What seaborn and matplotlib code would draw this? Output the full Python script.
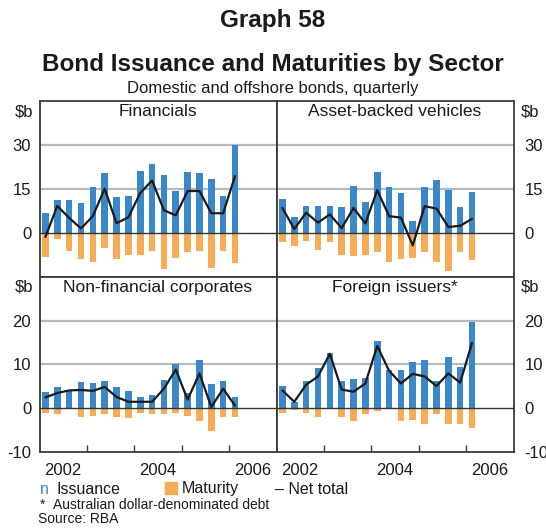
import matplotlib.pyplot as plt
import matplotlib.patches as mpatches
import pandas as pd
import seaborn as sns

# quarterly data, Mar-2002 to Mar-2006 ($b)
years = [2002] * 4 + [2003] * 4 + [2004] * 4 + [2005] * 4 + [2006]
quarters = [1, 2, 3, 4] * 4 + [1]

fin_iss = [6.9, 11.3, 11.3, 10.3, 15.8, 20.6, 12.4, 12.7, 21.1, 23.7, 19.9, 14.4, 21.0, 20.6, 18.6, 12.7, 30.0]
fin_mat = [8.1, 1.9, 6.1, 8.8, 9.9, 5.0, 8.8, 7.4, 7.4, 6.1, 12.3, 8.5, 6.4, 6.1, 11.9, 6.1, 10.2]
fin_net = [-1.3, 9.3, 5.2, 1.6, 5.8, 15.2, 3.4, 5.4, 13.7, 18.0, 7.8, 6.1, 14.4, 14.4, 6.8, 6.8, 19.5]

abs_iss = [11.7, 5.5, 9.3, 9.3, 9.3, 8.9, 16.2, 10.7, 21.0, 15.8, 13.7, 4.1, 15.8, 18.2, 14.8, 8.9, 14.1]
abs_mat = [3.0, 4.4, 2.6, 5.7, 3.0, 7.4, 7.8, 7.4, 6.4, 9.9, 8.8, 8.5, 6.4, 9.9, 12.9, 6.4, 9.2]
abs_net = [8.6, 1.4, 7.0, 3.6, 6.4, 1.7, 8.6, 3.3, 14.7, 5.8, 5.3, -4.2, 9.2, 8.4, 2.1, 2.5, 4.9]

nfc_iss = [3.7, 4.8, 4.1, 6.0, 5.7, 6.2, 4.8, 3.9, 2.5, 3.0, 6.4, 10.1, 3.4, 11.0, 5.5, 6.2, 2.5]
nfc_mat = [1.1, 1.5, 0.0, 2.0, 1.8, 1.5, 2.2, 2.4, 1.1, 1.5, 1.5, 1.1, 1.8, 3.1, 5.4, 2.0, 2.2]
nfc_net = [2.4, 3.4, 4.0, 4.1, 3.9, 4.8, 2.5, 1.4, 1.4, 1.4, 4.4, 8.8, 1.9, 7.9, 0.2, 4.4, 0.5]

for_iss = [5.0, 1.4, 6.2, 9.2, 12.6, 6.2, 6.6, 6.9, 15.3, 8.7, 8.7, 10.5, 11.0, 6.2, 11.7, 9.4, 19.7]
for_mat = [1.1, 0.4, 1.1, 2.0, 0.0, 2.0, 2.9, 1.3, 0.8, 0.0, 3.1, 2.7, 3.8, 1.3, 3.8, 3.6, 4.7]
for_net = [4.0, 1.4, 5.3, 7.2, 12.4, 4.2, 3.7, 5.6, 14.2, 8.5, 5.6, 7.8, 7.2, 5.0, 7.9, 5.8, 14.9]

titles = ["Financials", "Asset-backed vehicles", "Non-financial corporates", "Foreign issuers*"]
top_ticks = [0, 15, 30]
bottom_ticks = [-10, 0, 10, 20]

BLUE = "#3a87c9"
ORANGE = "#f9aa55"
GRID = "#b3b9bf"
FRAME = "#3a3a3a"
TXT = "#1a1a1a"

sns.set_theme(style="white")
plt.rcParams["font.family"] = ["Liberation Sans", "DejaVu Sans"]
plt.rcParams["axes.unicode_minus"] = False

W, H = 546, 529
fig = plt.figure(figsize=(W / 100, H / 100), dpi=100)


def box(x0, y0, x1, y1):
    # pixel box (top-left origin) -> figure fractions
    return [x0 / W, 1 - y1 / H, (x1 - x0) / W, (y1 - y0) / H]


axes = [
    fig.add_axes(box(39.5, 101.5, 276.5, 277)),
    fig.add_axes(box(276.5, 101.5, 513.5, 277)),
    fig.add_axes(box(39.5, 277, 276.5, 451.5)),
    fig.add_axes(box(276.5, 277, 513.5, 451.5)),
]

series = [
    (fin_iss, fin_mat, fin_net),
    (abs_iss, abs_mat, abs_net),
    (nfc_iss, nfc_mat, nfc_net),
    (for_iss, for_mat, for_net),
]

pos = [y + (q - 1) * 0.25 + 0.125 for y, q in zip(years, quarters)]

for i, (ax, (iss, mat, net)) in enumerate(zip(axes, series)):
    top = i < 2
    ticks = top_ticks if top else bottom_ticks

    df = pd.DataFrame({"pos": pos, "iss": iss, "mat": [-m for m in mat], "net": net})
    sns.barplot(data=df, x="pos", y="iss", native_scale=True, width=0.56,
                color=BLUE, saturation=1, errorbar=None, linewidth=0, ax=ax, zorder=2)
    sns.barplot(data=df, x="pos", y="mat", native_scale=True, width=0.56,
                color=ORANGE, saturation=1, errorbar=None, linewidth=0, ax=ax, zorder=2)
    sns.lineplot(data=df, x="pos", y="net", color=TXT, lw=1.6, ax=ax, zorder=4)

    ax.set_ylim(*((-15, 45) if top else (-10, 30)))
    ax.set_yticks(ticks)
    ax.set_xlim(2002, 2007)
    ax.set_xlabel("")
    ax.set_ylabel("")

    # grid lines by hand, just under the bars
    for t in ticks:
        if t > 0:
            ax.axhline(t, color=GRID, lw=1.6, zorder=1.5)
    ax.axhline(0, color="#333333", lw=1.0, zorder=3)

    left = i % 2 == 0
    ax.tick_params(axis="y", length=0, labelsize=12, labelcolor=TXT,
                   labelleft=left, labelright=not left, pad=6 if left else 8)
    ax.text(-0.026 if left else 1.032, 0.985, "\\$b", transform=ax.transAxes,
            ha="right" if left else "left", va="top", fontsize=12, color=TXT)

    if top:
        ax.set_xticks([])
    else:
        ax.set_xticks([2003, 2004, 2005, 2006])
        ax.set_xticks([2002.5, 2004.5, 2006.5], minor=True)
        ax.set_xticklabels([], minor=False)
        ax.set_xticklabels(["2002", "2004", "2006"], minor=True)
        ax.tick_params(axis="x", which="major", direction="in", length=5,
                       width=1, color=FRAME, bottom=True)
        ax.tick_params(axis="x", which="minor", length=0, labelsize=12,
                       labelcolor=TXT, pad=8, bottom=True)

    for s in ax.spines.values():
        s.set_visible(True)
        s.set_color(FRAME)
        s.set_linewidth(1.3)

    ax.text(0.5, 0.985, titles[i], transform=ax.transAxes, ha="center", va="top",
            fontsize=12.5, color=TXT)

fig.text(0.5, 1 - 20 / H, "Graph 58", ha="center", va="center",
         fontsize=17.5, fontweight="bold", color=TXT)
fig.text(0.5, 1 - 64 / H, "Bond Issuance and Maturities by Sector", ha="center",
         va="center", fontsize=17.5, fontweight="bold", color=TXT)
fig.text(0.5, 1 - 88 / H, "Domestic and offshore bonds, quarterly", ha="center",
         va="center", fontsize=12, color=TXT)

# legend
ly = 1 - 489 / H
fig.text(40 / W, ly, "n", ha="left", va="center", fontsize=11.5, color=BLUE)
fig.text(57 / W, ly, "Issuance", ha="left", va="center", fontsize=11.5, color=TXT)
fig.patches.append(mpatches.Rectangle((165 / W, 1 - 494 / H), 12 / W, 12 / H,
                                      transform=fig.transFigure, color=ORANGE))
fig.text(182 / W, ly, "Maturity", ha="left", va="center", fontsize=11.5, color=TXT)
fig.text(275 / W, ly, "\u2013 Net total", ha="left", va="center", fontsize=11.5, color=TXT)

fig.text(40 / W, 1 - 505 / H, "*", ha="left", va="center", fontsize=10, color=TXT)
fig.text(53 / W, 1 - 505 / H, "Australian dollar-denominated debt", ha="left",
         va="center", fontsize=10, color=TXT)
fig.text(38 / W, 1 - 519 / H, "Source: RBA", ha="left", va="center", fontsize=10,
         color=TXT)

fig.savefig("out.png", dpi=100, facecolor="white")
